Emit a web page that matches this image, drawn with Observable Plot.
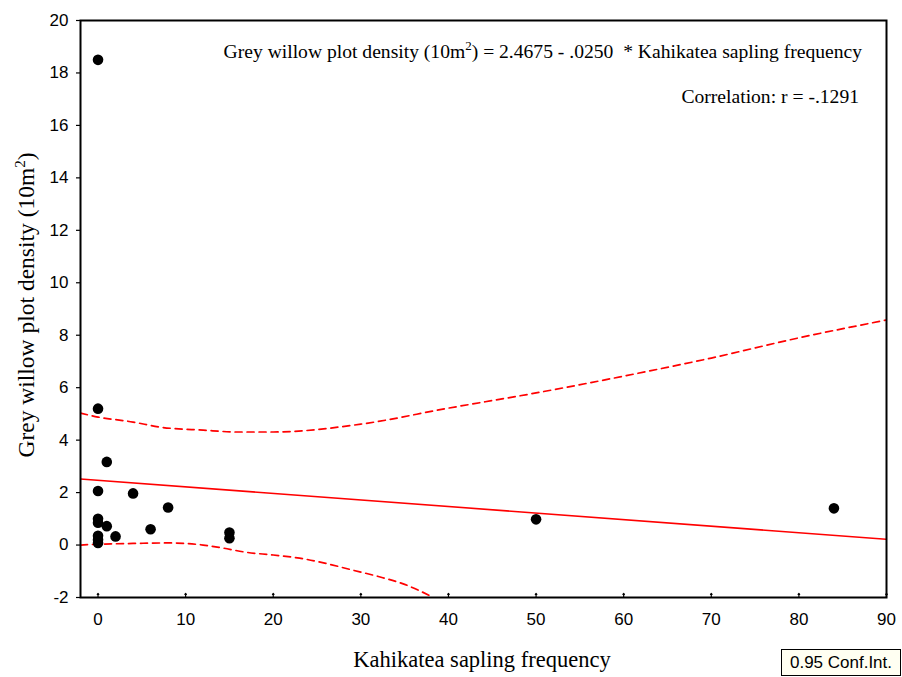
<!DOCTYPE html>
<html>
<head>
<meta charset="utf-8">
<script src="https://cdn.jsdelivr.net/npm/d3@7"></script>
<script src="https://cdn.jsdelivr.net/npm/@observablehq/plot@0.6"></script>
<style>
  html, body { margin: 0; padding: 0; background: #fff; }
  #wrap { position: relative; width: 902px; height: 677px; }
  #legend { position: absolute; left: 781px; top: 649px; width: 120px; height: 27px;
    border: 1.5px solid #000; background: #fffff2; font: 17px "Liberation Sans", Arial, sans-serif;
    line-height: 25px; text-align: center; color: #000; box-sizing: border-box; white-space: nowrap; }
</style>
</head>
<body>
<div id="wrap"><div id="chart"></div><div id="legend">0.95 Conf.Int.</div></div>
<script>
// Scatter points (Kahikatea sapling frequency, Grey willow plot density)
const sapFreq = [0, 0, 0, 0, 0, 0, 0, 0, 1, 1, 2, 4, 6, 8, 15, 15, 50, 84];
const willowDensity = [18.5, 5.2, 2.06, 1.0, 0.85, 0.35, 0.2, 0.08, 3.17, 0.72, 0.33, 1.97, 0.6, 1.43, 0.48, 0.26, 0.98, 1.4];

// Regression line endpoints
const fitX = [-2, 90];
const fitY = [2.52, 0.22];

// Upper 0.95 confidence band
const upperX = [-2, 0, 4, 7, 12, 16, 20, 30, 40, 50, 60, 70, 80, 90];
const upperY = [5.03, 4.88, 4.69, 4.5, 4.38, 4.31, 4.31, 4.61, 5.22, 5.8, 6.44, 7.13, 7.9, 8.58];

// Lower 0.95 confidence band
const lowerX = [-2, 0, 4, 8, 12, 14, 17, 20, 23, 26, 29, 32, 35, 38];
const lowerY = [0.0, 0.03, 0.06, 0.08, 0.0, -0.1, -0.28, -0.38, -0.5, -0.7, -0.95, -1.2, -1.5, -1.95];

const xTicks = [0, 10, 20, 30, 40, 50, 60, 70, 80, 90];
const yTicks = [-2, 0, 2, 4, 6, 8, 10, 12, 14, 16, 18, 20];

const pts = sapFreq.map((x, i) => ({x, y: willowDensity[i]}));
const fit = fitX.map((x, i) => ({x, y: fitY[i]}));
const upper = upperX.map((x, i) => ({x, y: upperY[i]}));
const lower = lowerX.map((x, i) => ({x, y: lowerY[i]}));

const plot = Plot.plot({
  width: 902,
  height: 677,
  marginLeft: 80,
  marginRight: 16,
  marginTop: 20,
  marginBottom: 80,
  style: {fontFamily: "'Liberation Sans', Arial, sans-serif", fontSize: "17px", color: "#000", background: "#fff"},
  x: {domain: [-2, 90]},
  y: {domain: [-2, 20]},
  marks: [
    Plot.line(upper, {x: "x", y: "y", stroke: "#ff0000", strokeWidth: 1.7, strokeDasharray: "7,5", curve: "monotone-x", clip: true}),
    Plot.line(lower, {x: "x", y: "y", stroke: "#ff0000", strokeWidth: 1.7, strokeDasharray: "7,5", curve: "monotone-x", clip: true}),
    Plot.line(fit, {x: "x", y: "y", stroke: "#ff0000", strokeWidth: 1.6, clip: true}),
    Plot.dot(pts, {x: "x", y: "y", r: 5.3, fill: "#000", stroke: "none"}),
    Plot.axisX(xTicks, {tickSize: 0, tickPadding: 15, fontSize: 17, label: null, tickFormat: d => String(d)}),
    Plot.vector(xTicks, {x: d => d, y: -2, length: 4, rotate: 0, anchor: "start", stroke: "#000", strokeWidth: 1.2}),
    Plot.axisY(yTicks, {tickSize: 4, tickPadding: 8, fontSize: 17, label: null, strokeWidth: 1.2, tickFormat: d => String(d)}),
    Plot.frame({stroke: "#000", strokeWidth: 2})
  ]
});

document.getElementById("chart").appendChild(plot);

const svg = d3.select(plot);
const serif = "'Liberation Serif', 'Times New Roman', serif";

// Equation annotation
const eq = svg.append("text")
  .attr("x", 862).attr("y", 58)
  .attr("text-anchor", "end")
  .attr("font-family", serif).attr("font-size", 19.6).attr("fill", "#000");
eq.append("tspan").text("Grey willow plot density (10m");
eq.append("tspan").attr("dy", -8).attr("font-size", 13).text("2");
eq.append("tspan").attr("dy", 8).text(")\u00a0= 2.4675 - .0250 \u00a0* Kahikatea sapling frequency");

svg.append("text")
  .attr("x", 859).attr("y", 103)
  .attr("text-anchor", "end")
  .attr("font-family", serif).attr("font-size", 19.6).attr("fill", "#000")
  .text("Correlation: r = -.1291");

// X axis title
svg.append("text")
  .attr("x", 482).attr("y", 667)
  .attr("text-anchor", "middle")
  .attr("font-family", serif).attr("font-size", 22.5).attr("fill", "#000")
  .text("Kahikatea sapling frequency");

// Y axis title
const yt = svg.append("text")
  .attr("transform", "translate(34,305) rotate(-90)")
  .attr("text-anchor", "middle")
  .attr("font-family", serif).attr("font-size", 23.5).attr("fill", "#000");
yt.append("tspan").text("Grey willow plot density (10m");
yt.append("tspan").attr("dy", -9).attr("font-size", 15).text("2");
yt.append("tspan").attr("dy", 9).text(")");
</script>
</body>
</html>
